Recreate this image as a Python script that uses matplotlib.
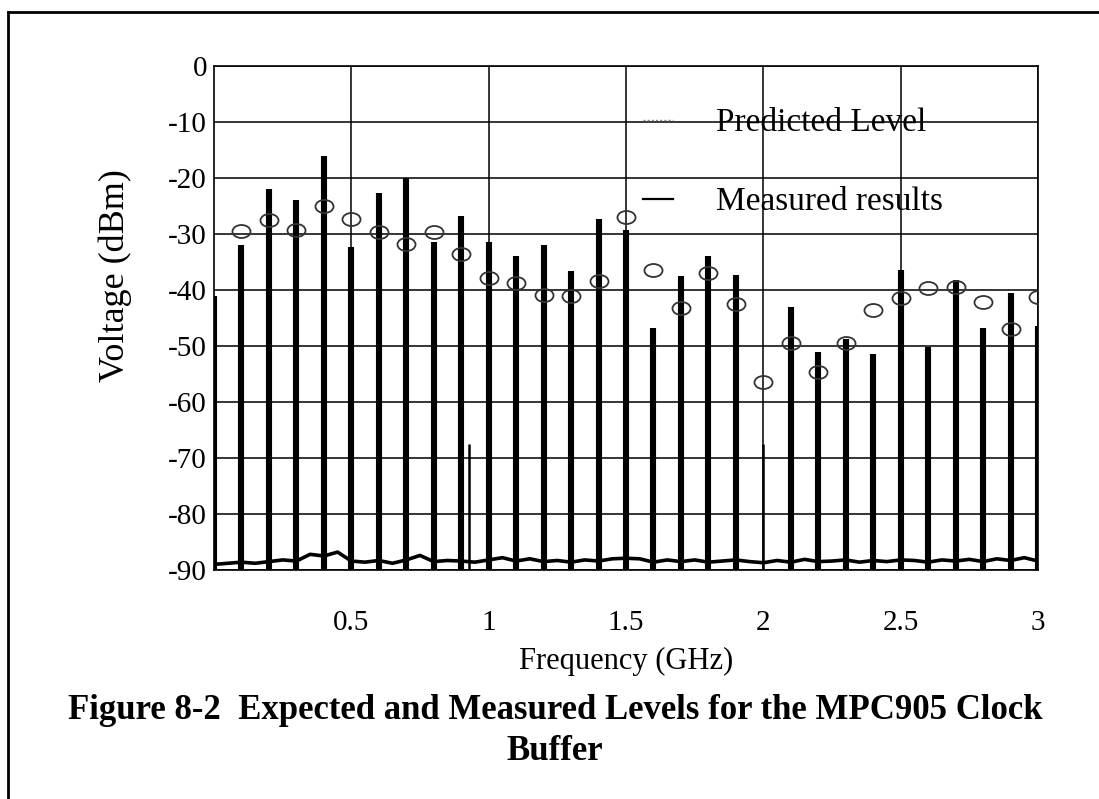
import numpy as np
import matplotlib
matplotlib.use("Agg")
import matplotlib.pyplot as plt
from matplotlib.lines import Line2D
from matplotlib.path import Path
from matplotlib.transforms import Affine2D

plt.rcParams['font.family'] = ['Liberation Serif', 'DejaVu Serif']
plt.rcParams['axes.unicode_minus'] = False

# measured spectrum: spike frequencies (GHz) and peak levels (dBm)
spike_freq = [0.0, 0.1, 0.2, 0.3, 0.4, 0.5, 0.6, 0.7, 0.8, 0.9, 0.93, 1.0,
              1.1, 1.2, 1.3, 1.4, 1.5, 1.6, 1.7, 1.8, 1.9, 2.0, 2.1, 2.2,
              2.3, 2.4, 2.5, 2.6, 2.7, 2.8, 2.9, 3.0]
spike_peak = [-41, -32, -22, -24, -16, -32.3, -22.7, -20, -31.5, -26.8, -67.5, -31.5,
              -33.9, -31.9, -36.6, -27.3, -29.3, -46.8, -37.5, -33.9, -37.3, -67.5, -43, -51,
              -48.7, -51.5, -36.4, -50.2, -38.2, -46.8, -40.5, -46.4]

# noise floor of the measured trace
noise_freq = [0.00, 0.05, 0.10, 0.15, 0.20, 0.25, 0.30, 0.35, 0.40, 0.45, 0.50,
              0.55, 0.60, 0.65, 0.70, 0.75, 0.80, 0.85, 0.90, 0.95, 1.00,
              1.05, 1.10, 1.15, 1.20, 1.25, 1.30, 1.35, 1.40, 1.45, 1.50,
              1.55, 1.60, 1.65, 1.70, 1.75, 1.80, 1.85, 1.90, 1.95, 2.00,
              2.05, 2.10, 2.15, 2.20, 2.25, 2.30, 2.35, 2.40, 2.45, 2.50,
              2.55, 2.60, 2.65, 2.70, 2.75, 2.80, 2.85, 2.90, 2.95, 3.00]
noise_level = [-89.0, -88.8, -88.6, -88.8, -88.5, -88.2, -88.4, -87.2, -87.5, -86.8, -88.4,
               -88.6, -88.3, -88.8, -88.2, -87.4, -88.5, -88.3, -88.4, -88.6, -88.2,
               -87.8, -88.4, -88.0, -88.5, -88.3, -88.6, -88.2, -88.4, -88.0, -87.9,
               -88.0, -88.6, -88.2, -88.5, -88.2, -88.6, -88.4, -88.2, -88.5, -88.7,
               -88.3, -88.6, -88.1, -88.5, -88.4, -88.2, -88.6, -88.3, -88.5, -88.2,
               -88.3, -88.6, -88.2, -88.4, -88.1, -88.5, -88.0, -88.3, -87.8, -88.4]

# predicted levels at each harmonic
pred_freq = [0.1, 0.2, 0.3, 0.4, 0.5, 0.6, 0.7, 0.8, 0.9, 1.0,
             1.1, 1.2, 1.3, 1.4, 1.5, 1.6, 1.7, 1.8, 1.9, 2.0,
             2.1, 2.2, 2.3, 2.4, 2.5, 2.6, 2.7, 2.8, 2.9, 3.0]
pred_level = [-29.5, -27.5, -29.3, -25.0, -27.3, -29.6, -31.7, -29.6, -33.6, -37.8,
              -38.8, -40.9, -41.0, -38.4, -26.9, -36.4, -43.3, -36.9, -42.5, -56.5,
              -49.4, -54.6, -49.4, -43.5, -41.5, -39.7, -39.4, -42.2, -47.0, -41.2]

x_ticks = [0.5, 1, 1.5, 2, 2.5, 3]
x_labels = ['0.5', '1', '1.5', '2', '2.5', '3']
y_ticks = [0, -10, -20, -30, -40, -50, -60, -70, -80, -90]

fig = plt.figure(figsize=(10.99, 7.99), dpi=100)
ax = fig.add_axes([0.1947, 0.2866, 0.7498, 0.6308])

# measured trace
ax.plot(noise_freq, noise_level, color='black', lw=2.6, zorder=3)
widths = [1.8 if p < -60 else 4.4 for p in spike_peak]
ax.vlines(spike_freq, -90, spike_peak, colors='black', linewidths=widths, zorder=3)

# predicted level, drawn as flattened open circles
ellipse = Affine2D().scale(1, 0.72).transform_path(Path.unit_circle())
ax.plot(pred_freq, pred_level, ls='none', marker=ellipse, markersize=13,
        markerfacecolor='none', markeredgecolor='#333333', markeredgewidth=1.3, zorder=4)

ax.set_xlim(0, 3)
ax.set_ylim(-90, 0)
ax.set_xticks(x_ticks)
ax.set_xticklabels(x_labels)
ax.set_yticks(y_ticks)
ax.tick_params(axis='both', length=0, labelsize=21)
ax.tick_params(axis='x', pad=29)
ax.tick_params(axis='y', pad=5)
ax.grid(True, color='black', lw=1.1)
for s in ax.spines.values():
    s.set_linewidth(1.2)

ax.set_xlabel('Frequency (GHz)', fontsize=22, labelpad=8)
ax.set_ylabel('Voltage (dBm)', fontsize=26)
ax.yaxis.set_label_coords(-0.100, 0.585)

handles = [Line2D([], [], color='#888888', lw=1.0, ls=(0, (1.5, 1.5))),
           Line2D([], [], color='black', lw=1.6)]
ax.legend(handles, ['Predicted Level', 'Measured results'], loc='upper left',
          bbox_to_anchor=(0.50, 0.95), frameon=False, fontsize=24,
          handlelength=0.9, handletextpad=1.3, labelspacing=1.45, borderpad=0)

fig.text(0.505, 0.085, 'Figure 8-2  Expected and Measured Levels for the MPC905 Clock\nBuffer',
         ha='center', va='center', fontsize=25, fontweight='bold', linespacing=1.3)

# page border (left and top)
fig.add_artist(Line2D([0.0075, 0.0075], [0.0, 0.985], color='black', lw=2))
fig.add_artist(Line2D([0.0075, 1.0], [0.985, 0.985], color='black', lw=2))

fig.savefig('out.png', dpi=100)
